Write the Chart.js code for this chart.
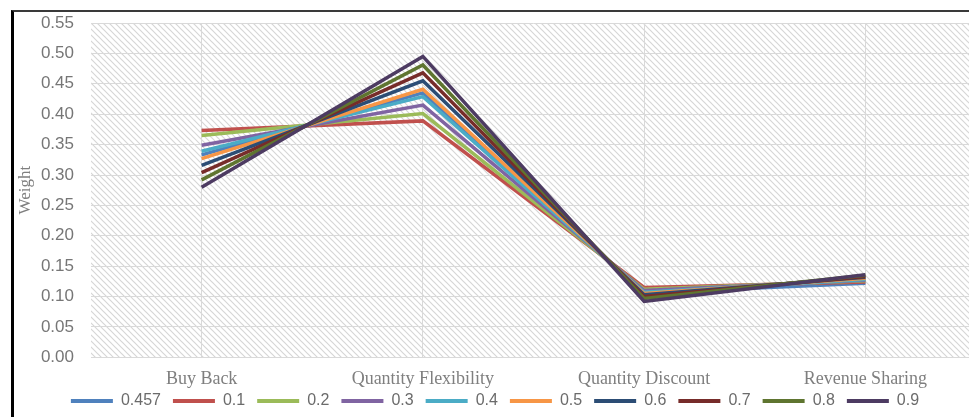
<!DOCTYPE html>
<html>
<head>
<meta charset="utf-8">
<script src="https://cdn.jsdelivr.net/npm/chart.js@4.4.0/dist/chart.umd.min.js"></script>
<style>
  html, body { margin: 0; padding: 0; background: #fff; overflow: hidden; }
  #frame {
    position: absolute; left: 11px; top: 10px;
    width: 1000px; height: 440px;
    border-left: 3px solid #000; border-top: 2px solid #3a3a3a;
    overflow: hidden;
  }
  #chart { display: block; }
</style>
</head>
<body>
<div id="frame"><canvas id="chart" width="1000" height="427"></canvas></div>
<script>
const categories = ['Buy Back', 'Quantity Flexibility', 'Quantity Discount', 'Revenue Sharing'];
const seriesNames = ['0.457', '0.1', '0.2', '0.3', '0.4', '0.5', '0.6', '0.7', '0.8', '0.9'];
const seriesColors = ['#4F81BD', '#C0504D', '#9BBB59', '#8064A2', '#4BACC6', '#F79646', '#2C4D75', '#772C2A', '#5F7530', '#4D3B62'];

const w0457 = [0.333, 0.435, 0.106, 0.122];
const w01 = [0.373, 0.389, 0.115, 0.124];
const w02 = [0.365, 0.401, 0.112, 0.126];
const w03 = [0.349, 0.415, 0.110, 0.127];
const w04 = [0.339, 0.429, 0.107, 0.128];
const w05 = [0.327, 0.441, 0.105, 0.130];
const w06 = [0.316, 0.455, 0.103, 0.132];
const w07 = [0.304, 0.468, 0.100, 0.133];
const w08 = [0.292, 0.481, 0.097, 0.135];
const w09 = [0.280, 0.495, 0.092, 0.136];
const seriesValues = [w0457, w01, w02, w03, w04, w05, w06, w07, w08, w09];

// hatched plot background
const makeHatch = () => {
  const c = document.createElement('canvas');
  c.width = 6; c.height = 6;
  const g = c.getContext('2d');
  g.fillStyle = '#fff';
  g.fillRect(0, 0, 6, 6);
  g.strokeStyle = '#d6d6d6';
  g.lineWidth = 1.2;
  g.beginPath();
  g.moveTo(-1, -1); g.lineTo(7, 7);
  g.moveTo(-7, -1); g.lineTo(1, 7);
  g.moveTo(5, -1); g.lineTo(13, 7);
  g.stroke();
  return c;
};

const hatchPlugin = {
  id: 'hatch',
  beforeDraw(chart) {
    const { ctx, chartArea: a } = chart;
    ctx.save();
    ctx.fillStyle = ctx.createPattern(makeHatch(), 'repeat');
    ctx.fillRect(a.left, a.top, a.right - a.left, a.bottom - a.top);
    ctx.restore();
  }
};

// pull the legend closer to the category labels
const legendShift = {
  id: 'legendShift',
  afterLayout(chart) {
    if (chart.legend) chart.legend.top -= 20;
  }
};

const datasets = seriesNames.map((name, i) => ({
  label: name,
  data: seriesValues[i],
  borderColor: seriesColors[i],
  backgroundColor: seriesColors[i],
  borderWidth: 3.5,
  pointRadius: 0,
  tension: 0,
  order: -i
}));

new Chart(document.getElementById('chart'), {
  type: 'line',
  data: { labels: categories, datasets: datasets },
  plugins: [hatchPlugin, legendShift],
  options: {
    responsive: false,
    animation: false,
    layout: { padding: { top: 11, right: 38, bottom: 0, left: 0 } },
    plugins: {
      tooltip: { enabled: false },
      legend: {
        position: 'bottom',
        labels: {
          boxWidth: 42,
          boxHeight: 4,
          padding: 12,
          color: '#6b6b6b',
          font: { family: 'Liberation Sans', size: 16 },
          sort: (a, b) => a.datasetIndex - b.datasetIndex,
          generateLabels: (chart) => Chart.defaults.plugins.legend.labels.generateLabels(chart).map(item => {
            item.lineWidth = 0;
            item.fillStyle = item.strokeStyle;
            return item;
          })
        }
      }
    },
    scales: {
      x: {
        offset: true,
        grid: { offset: false, color: '#d9d9d9', drawTicks: false },
        border: { color: '#d9d9d9' },
        ticks: {
          padding: 11,
          color: '#7f7f7f',
          font: { family: 'Liberation Serif', size: 18 }
        }
      },
      y: {
        min: 0,
        max: 0.55,
        grid: { color: '#d9d9d9', drawTicks: false },
        border: { display: false },
        ticks: {
          stepSize: 0.05,
          padding: 17,
          color: '#767676',
          font: { family: 'Liberation Sans', size: 17 },
          callback: (v) => v.toFixed(2)
        },
        title: {
          display: true,
          text: 'Weight',
          color: '#7f7f7f',
          padding: { top: 1, bottom: 0 },
          font: { family: 'Liberation Serif', size: 17 }
        },
        afterFit: (scale) => {
          scale.width = 77;
          scale.paddingTop = 0;
          scale.paddingBottom = 0;
        }
      }
    }
  }
});
</script>
</body>
</html>
